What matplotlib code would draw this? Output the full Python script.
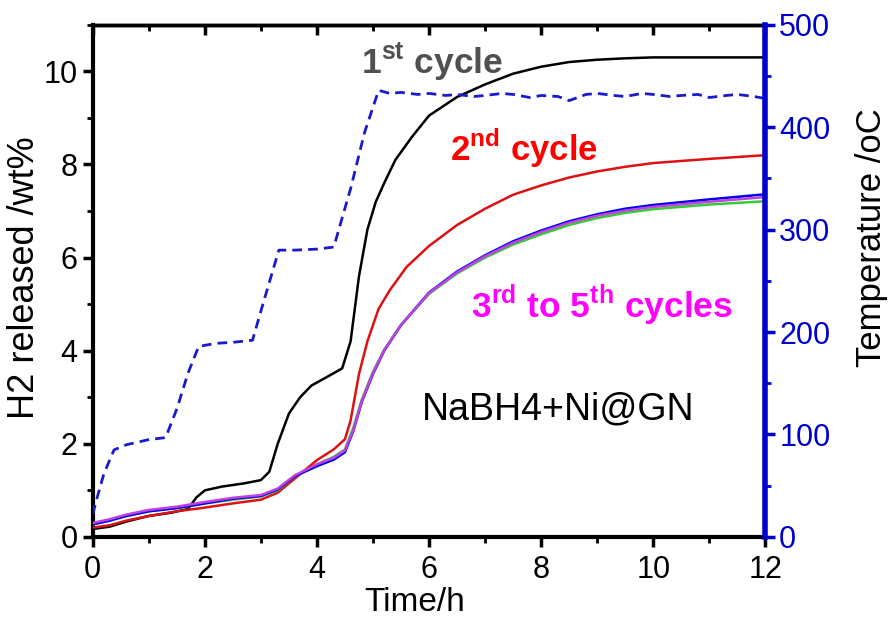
import numpy as np
import matplotlib
matplotlib.use("Agg")
import matplotlib.pyplot as plt
from matplotlib.ticker import MultipleLocator

plt.rcParams['font.family'] = ['Liberation Sans', 'DejaVu Sans']
plt.rcParams['mathtext.fontset'] = 'custom'
plt.rcParams['mathtext.rm'] = 'Liberation Sans'
plt.rcParams['mathtext.bf'] = 'Liberation Sans:bold'

# H2 released (wt%)
t_c1 = [0, 0.3, 0.6, 1.0, 1.4, 1.7, 1.85, 2.0, 2.3, 2.7, 3.0, 3.15, 3.3, 3.5, 3.7, 3.9,
        4.2, 4.45, 4.6, 4.75, 4.9, 5.05, 5.2, 5.4, 5.7, 6.0, 6.5, 7.0, 7.5, 8.0, 8.5,
        9.0, 9.5, 10.0, 12.0]
h_c1 = [0.17, 0.22, 0.33, 0.45, 0.52, 0.6, 0.85, 1.0, 1.08, 1.15, 1.22, 1.4, 2.0, 2.65,
        3.0, 3.25, 3.45, 3.62, 4.2, 5.6, 6.6, 7.2, 7.6, 8.1, 8.6, 9.05, 9.45, 9.72, 9.95,
        10.1, 10.2, 10.25, 10.28, 10.3, 10.3]

t_c2 = [0, 0.3, 0.6, 1.0, 1.5, 2.0, 2.5, 3.0, 3.3, 3.6, 4.0, 4.3, 4.5, 4.6, 4.75, 4.9,
        5.1, 5.3, 5.6, 6.0, 6.5, 7.0, 7.5, 8.0, 8.5, 9.0, 9.5, 10.0, 11.0, 12.0]
h_c2 = [0.2, 0.25, 0.35, 0.45, 0.55, 0.63, 0.72, 0.8, 0.95, 1.25, 1.65, 1.88, 2.1, 2.5,
        3.5, 4.2, 4.9, 5.3, 5.8, 6.25, 6.7, 7.05, 7.35, 7.55, 7.72, 7.85, 7.95, 8.03,
        8.12, 8.2]

t_c35 = [0, 0.3, 0.6, 1.0, 1.5, 2.0, 2.5, 3.0, 3.3, 3.6, 4.0, 4.3, 4.5, 4.65, 4.8, 5.0,
         5.2, 5.5, 6.0, 6.5, 7.0, 7.5, 8.0, 8.5, 9.0, 9.5, 10.0, 11.0, 12.0]
h_c3 = [0.27, 0.35, 0.45, 0.55, 0.62, 0.72, 0.8, 0.87, 1.0, 1.3, 1.56, 1.72, 1.88, 2.35,
        2.95, 3.55, 4.02, 4.55, 5.22, 5.66, 6.0, 6.28, 6.5, 6.7, 6.85, 6.96, 7.04, 7.14, 7.21]
h_c4 = [0.27, 0.35, 0.45, 0.55, 0.62, 0.72, 0.82, 0.88, 1.02, 1.3, 1.52, 1.66, 1.82, 2.28,
        2.9, 3.5, 4.0, 4.55, 5.25, 5.7, 6.05, 6.35, 6.58, 6.78, 6.93, 7.05, 7.13, 7.25, 7.36]
h_c5 = [0.3, 0.38, 0.48, 0.58, 0.65, 0.75, 0.84, 0.9, 1.04, 1.32, 1.56, 1.7, 1.86, 2.3,
        2.92, 3.52, 4.01, 4.55, 5.24, 5.68, 6.03, 6.32, 6.55, 6.75, 6.9, 7.01, 7.09, 7.2, 7.3]

# Temperature program (oC)
t_temp = [0, 0.05, 0.2, 0.38, 0.6, 1.0, 1.3, 1.5, 1.7, 1.89, 2.2, 2.5, 2.85, 3.05, 3.32,
          3.6, 4.0, 4.3, 4.6, 4.85, 5.1, 5.3, 5.5, 5.8, 6.0, 6.3, 6.5, 6.8, 7.0, 7.3,
          7.5, 7.8, 8.0, 8.3, 8.5, 8.8, 9.0, 9.3, 9.5, 9.8, 10.0, 10.3, 10.5, 10.8,
          11.0, 11.3, 11.5, 11.8, 12.0]
temp = [22, 33, 62, 85, 90, 95, 97, 125, 160, 186, 189, 190, 192, 230, 280, 280, 281,
        283, 340, 395, 436, 433, 434, 432, 433, 431, 432, 430, 431, 433, 432, 429, 431,
        430, 426, 432, 433, 431, 430, 433, 432, 430, 431, 432, 429, 431, 432, 430, 428]

fig = plt.figure(figsize=(8.92, 6.2), dpi=100)
ax = fig.add_axes([0.104, 0.134, 0.754, 0.826])
ax2 = ax.twinx()

ax.plot(t_c1, h_c1, color='black', lw=1.8, zorder=5)
ax.plot(t_c2, h_c2, color='#dd1111', lw=1.8, zorder=5)
ax.plot(t_c35, h_c3, color='#33cc33', lw=1.8, zorder=5)
ax.plot(t_c35, h_c4, color='#0000ee', lw=1.8, zorder=5)
ax.plot(t_c35, h_c5, color='#c040e0', lw=1.8, zorder=5)

ax2.plot(t_temp, temp, color='#1a1acc', lw=2, linestyle=(0, (3.5, 2.2)))

ax.set_xlim(0, 12)
ax.set_ylim(0, 11)
ax2.set_ylim(0, 500)

ax.xaxis.set_major_locator(MultipleLocator(2))
ax.xaxis.set_minor_locator(MultipleLocator(1))
ax.yaxis.set_major_locator(MultipleLocator(2))
ax.yaxis.set_minor_locator(MultipleLocator(1))
ax2.yaxis.set_major_locator(MultipleLocator(100))
ax2.yaxis.set_minor_locator(MultipleLocator(50))

ax.tick_params(axis='both', which='major', direction='out', length=7, width=2.5,
               labelsize=22, pad=4)
ax.tick_params(axis='both', which='minor', direction='out', length=4, width=2)
ax.tick_params(axis='x', which='major', pad=6)
ax2.tick_params(axis='y', which='major', direction='out', length=7, width=2.5,
                colors='#0000cc', labelsize=22, pad=3)
ax2.tick_params(axis='y', which='minor', direction='out', length=4, width=2,
                colors='#0000cc')

# inward ticks along the top edge
secx = ax.secondary_xaxis('top')
secx.xaxis.set_major_locator(MultipleLocator(2))
secx.xaxis.set_minor_locator(MultipleLocator(1))
secx.tick_params(which='major', direction='in', length=7, width=2.5, labeltop=False)
secx.tick_params(which='minor', direction='in', length=4, width=2)
secx.spines['top'].set_linewidth(2.5)

for s in ['left', 'bottom']:
    ax.spines[s].set_linewidth(3)
ax.spines['top'].set_linewidth(2.5)
ax.spines['right'].set_visible(False)
ax2.spines['right'].set_color('#0000cc')
ax2.spines['right'].set_linewidth(4)
ax2.spines['left'].set_visible(False)
ax2.spines['top'].set_visible(False)
ax2.spines['bottom'].set_visible(False)

ax.set_xlabel('Time/h', fontsize=24)
ax.xaxis.set_label_coords(0.479, -0.098)
ax.set_ylabel('H2 released /wt%', fontsize=26)
ax.yaxis.set_label_coords(-0.076, 0.506)
ax2.set_ylabel('Temperature /oC', fontsize=25)
ax2.yaxis.set_label_coords(1.134, 0.584)

ax.text(4.78, 10.2, r'1$^{\mathbf{st}}$ cycle', color='#505050', fontsize=25.5,
        fontweight='bold', va='center', ha='left', zorder=6)
ax.text(6.38, 8.34, r'2$^{\mathbf{nd}}$ cycle', color='#ff0000', fontsize=25,
        fontweight='bold', va='center', ha='left', zorder=6)
ax.text(6.75, 5.0, r'3$^{\mathbf{rd}}$ to 5$^{\mathbf{th}}$ cycles', color='#ff00ff',
        fontsize=25.5, fontweight='bold', va='center', ha='left', zorder=6)
ax.text(5.88, 2.74, 'NaBH4+Ni@GN', color='black', fontsize=27, va='center', ha='left')

fig.savefig('out.png', dpi=100)
